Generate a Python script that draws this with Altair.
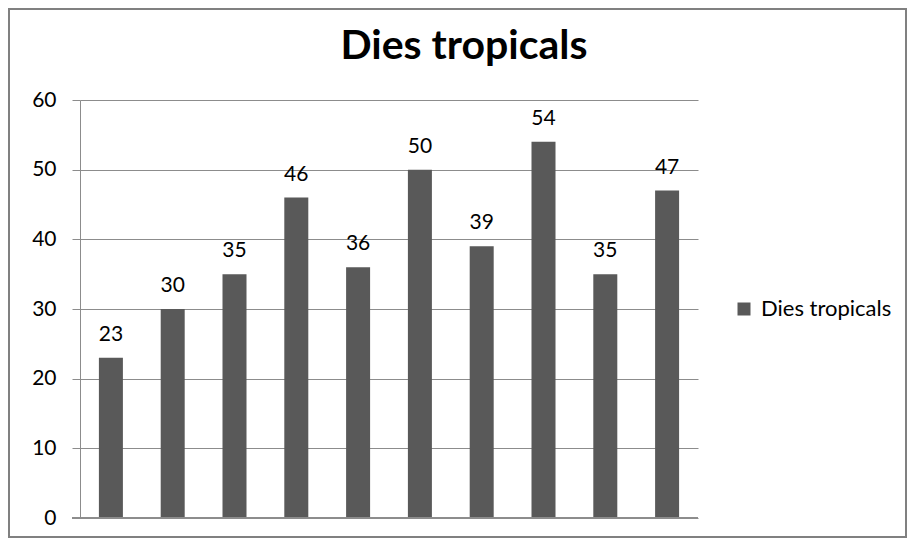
import altair as alt
import pandas as pd

categories = [str(i) for i in range(1, 11)]
values = [23, 30, 35, 46, 36, 50, 39, 54, 35, 47]
series = "Dies tropicals"
title_text = ["Dies tropicals"]

df = pd.DataFrame({"cat": categories, "value": values, "series": [series] * len(values)})
tdf = pd.DataFrame({"t": title_text})

FONT = "Lato"
W, H = 618, 418

x = alt.X("cat:N", sort=categories,
          scale=alt.Scale(paddingInner=0.61, paddingOuter=0.305),
          axis=alt.Axis(labels=False, ticks=False, title=None, domain=False, grid=False))
y = alt.Y("value:Q", scale=alt.Scale(domain=[0, 60], nice=False),
          axis=alt.Axis(values=[0, 10, 20, 30, 40, 50, 60], title=None, grid=True,
                        gridColor="#8c8c8c", gridWidth=1, tickColor="#8c8c8c", tickSize=8,
                        domainColor="#8c8c8c", labelFontSize=21, labelFont=FONT,
                        labelColor="#000000", labelPadding=16))

bars = alt.Chart(df).mark_bar(size=24).encode(
    x=x, y=y,
    color=alt.Color("series:N", scale=alt.Scale(range=["#595959"]),
                    legend=alt.Legend(title=None, orient="none", legendX=653, legendY=198,
                                      symbolType="square", symbolSize=169,
                                      symbolStrokeWidth=0, labelFontSize=22,
                                      labelFont=FONT, labelColor="#000000", labelOffset=6))
)

labels = alt.Chart(df).mark_text(baseline="alphabetic", dy=-17, fontSize=21, font=FONT,
                                 color="#000000").encode(
    x=alt.X("cat:N", sort=categories), y="value:Q", text="value:Q")

title = alt.Chart(tdf).mark_text(baseline="alphabetic", align="center", fontSize=41,
                                 font=FONT, fontWeight="bold", color="#000000").encode(
    x=alt.value(384), y=alt.value(-41), text="t:N")

bottom = alt.Chart(df).mark_rule(color="#8c8c8c").encode(
    x=alt.value(-8), x2=alt.value(W), y=alt.value(H))

frame = alt.Chart(df).mark_rect(filled=False, stroke="#808080", strokeWidth=2, clip=False).encode(
    x=alt.value(-71), x2=alt.value(W + 208), y=alt.value(-91), y2=alt.value(H + 19))

chart = alt.layer(bars, labels, bottom, title, frame).properties(
    width=W, height=H,
    autosize=alt.AutoSizeParams(type="none"),
    padding={"left": 72, "top": 92, "right": 209, "bottom": 20},
).configure_view(stroke=None)

chart.save("out.html", embed_options={"renderer": "svg", "actions": False})
